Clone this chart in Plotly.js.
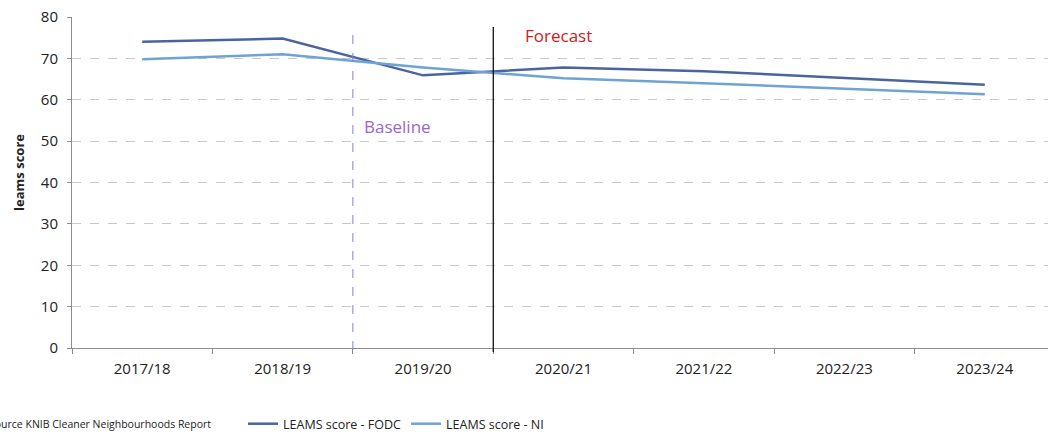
<!DOCTYPE html>
<html>
<head>
<meta charset="utf-8">
<script src="https://cdn.plot.ly/plotly-3.0.1.min.js"></script>
<style>
html,body{margin:0;padding:0;overflow:hidden;background:#fff;width:1048px;height:439px;}
#chart{position:absolute;left:-14px;top:0;width:1080px;height:439px;}
</style>
</head>
<body>
<div id="chart"></div>
<script>
const categories = ["2017/18","2018/19","2019/20","2020/21","2021/22","2022/23","2023/24"];
const fodc = [74, 74.8, 65.9, 67.8, 66.9, 65.3, 63.6];
const ni = [69.8, 71, 67.8, 65.2, 64, 62.7, 61.3];
const yTicks = [0,10,20,30,40,50,60,70,80];
const seriesNames = ["LEAMS score - FODC", "LEAMS score - NI"];
const baselineAt = 1.5, forecastAt = 2.5;
const fontFam = "'Open Sans', 'Noto Sans', sans-serif";

const traces = [
  {x: categories, y: fodc, name: seriesNames[0], type: "scatter", mode: "lines",
   line: {color: "#4a64a0", width: 2.5}},
  {x: categories, y: ni, name: seriesNames[1], type: "scatter", mode: "lines",
   line: {color: "#6ea3d2", width: 2.5}}
];

const layout = {
  width: 1080, height: 439,
  margin: {l: 86, r: 11, t: 17, b: 91},
  paper_bgcolor: "#fff", plot_bgcolor: "#fff",
  font: {family: fontFam, size: 12, color: "#222"},
  showlegend: true,
  legend: {orientation: "h", xref: "container", yref: "container", x: 0.238, y: 0.034,
           xanchor: "left", yanchor: "middle",
           font: {size: 12.5, color: "#222"}, entrywidth: 118, entrywidthmode: "pixels",
           bgcolor: "rgba(0,0,0,0)"},
  xaxis: {type: "category", range: [-0.5, 6.5], showgrid: false, showline: true,
          linecolor: "#8c8c8c", linewidth: 1, ticks: "outside", tickson: "boundaries",
          ticklen: 5, tickcolor: "#8c8c8c", ticklabelstandoff: 7,
          tickfont: {size: 15, color: "#222"}, zeroline: false},
  yaxis: {range: [0, 80], tickvals: yTicks, showgrid: true, gridcolor: "#c8c8c8",
          griddash: "dash", gridwidth: 1, showline: true, linecolor: "#8c8c8c",
          ticks: "outside", ticklen: 4, tickcolor: "#8c8c8c", zeroline: false,
          ticklabelstandoff: 6, tickfont: {size: 15, color: "#222"}},
  shapes: [
    {type: "line", xref: "x", yref: "paper", x0: baselineAt, x1: baselineAt, y0: -0.006, y1: 0.955,
     line: {color: "#8080d8", width: 1, dash: "dash"}},
    {type: "line", xref: "x", yref: "paper", x0: forecastAt, x1: forecastAt, y0: -0.012, y1: 0.97,
     line: {color: "#111", width: 1.3}}
  ],
  annotations: [
    {text: "leams score", xref: "paper", yref: "paper", x: 0, xshift: -53, y: 0.529,
     xanchor: "center", yanchor: "middle", textangle: -90, showarrow: false,
     font: {size: 13, color: "#222", weight: "bold"}},
    {text: "Forecast", xref: "x", yref: "paper", x: forecastAt, y: 0.943, xanchor: "left",
     xshift: 30, yanchor: "middle", showarrow: false, font: {size: 17, color: "#cc2020"}},
    {text: "Baseline", xref: "x", yref: "paper", x: baselineAt, y: 0.67, xanchor: "left",
     xshift: 9, yanchor: "middle", showarrow: false, font: {size: 17, color: "#9966cc"}},
    {text: "Source KNIB Cleaner Neighbourhoods Report", xref: "paper", yref: "paper",
     x: 0.1434, y: -0.2296, xanchor: "right", yanchor: "middle", showarrow: false,
     font: {size: 10.5, color: "#222"}}
  ]
};

Plotly.newPlot("chart", traces, layout, {displayModeBar: false, staticPlot: true});
</script>
</body>
</html>
